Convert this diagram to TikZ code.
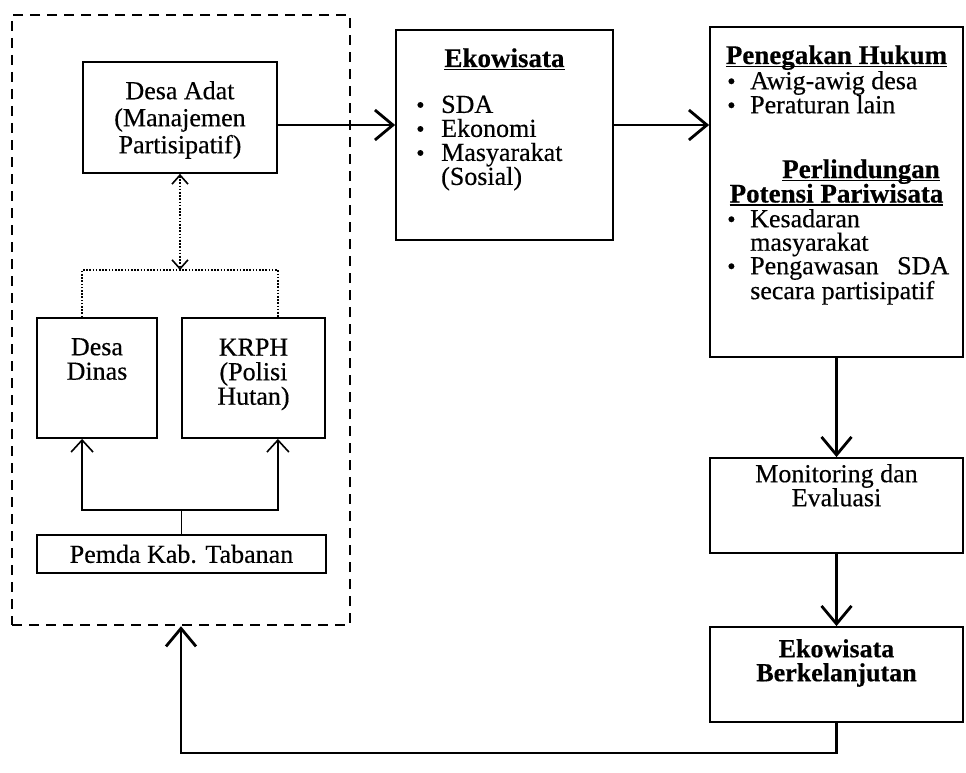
\documentclass[tikz,border=0pt]{standalone}
\usepackage{fontspec}
\setmainfont{Liberation Serif}[FakeBold=0.4]
\usetikzlibrary{arrows.meta}
\newcommand\bul{{\fontsize{24}{24}\selectfont\textbullet}}
\newcommand\bi[1]{\makebox[#1][l]{\bul}}
\newsavebox\ttlbox
\newcommand\ttl[1]{\sbox\ttlbox{#1}\rlap{\rule[-3.5pt]{\wd\ttlbox}{1.8pt}}\usebox\ttlbox}
\begin{document}
\begin{tikzpicture}[x=1pt,y=-1pt,
  txt/.style={font=\fontsize{26}{24}\selectfont, inner sep=0pt},
  box/.style={draw, line width=1.8pt, inner sep=0pt, txt, align=center},
  frame/.style={draw, line width=2.4pt, dash pattern=on 10pt off 7pt, inner sep=0pt},
  bigarr/.style={line width=2.8pt, -{Straight Barb[length=18pt,width=30pt]}},
  smallarr/.style={line width=1.6pt, -{Straight Barb[length=12pt,width=22pt]}},
  dotline/.style={line width=1.6pt, dash pattern=on 1.6pt off 1.6pt},
  dotarr/.style={dotline, {Straight Barb[length=9pt,width=16pt]}-{Straight Barb[length=9pt,width=16pt]}},
  title/.style={font=\fontsize{27}{27}\selectfont\bfseries, inner sep=0pt}
]
\useasboundingbox (0,0) rectangle (966,773);

% frame
\node[frame, minimum width=338pt, minimum height=610pt] (frame) at (181,320) {};

% left group
\node[box, minimum width=194pt, minimum height=111pt] (adat) at (180,117.5) {};
\node[txt, align=center, anchor=north, font=\fontsize{26}{27}\selectfont] (tadat) at (180,81) {Desa Adat\\(Manajemen\\Partisipatif)};
\node[box, minimum width=120pt, minimum height=120pt] (dinas) at (97,378) {};
\node[box, minimum width=143pt, minimum height=120pt] (krph) at (253.5,378) {};
\node[txt, align=center, anchor=north, font=\fontsize{26}{24.5}\selectfont] (tdinas) at (97,338) {Desa\\Dinas};
\node[txt, align=center, anchor=north, font=\fontsize{26}{24.5}\selectfont] (tkrph) at (253.5,338.5) {KRPH\\(Polisi\\Hutan)};
\node[box, minimum width=289pt, minimum height=38pt] (pemda) at (181.5,554) {Pemda Kab. Tabanan};

% Ekowisata
\node[box, minimum width=217pt, minimum height=210pt] (ekow) at (504.5,135) {};
\node[title, anchor=base] (tekow) at (504.5,67) {\ttl{Ekowisata}};
\node[txt, align=left, anchor=north west] (lekow) at (416,95.5)
  {\bi{25pt}SDA\\ \bi{25pt}Ekonomi\\ \bi{25pt}Masyarakat\\ \hspace*{25pt}(Sosial)};

% Penegakan / Perlindungan
\node[box, minimum width=253pt, minimum height=330pt] (pen) at (836.5,192) {};
\node[title, anchor=base] (tpen) at (836.5,64) {\ttl{Penegakan Hukum}};
\node[txt, align=left, anchor=north west] (lpen) at (727,71)
  {\bi{23pt}Awig-awig desa\\ \bi{23pt}Peraturan lain};
\node[title, anchor=base] (tperl) at (861,178) {\ttl{Perlindungan}};
\node[title, anchor=base] (tpot) at (836.5,202.5) {\ttl{Potensi Pariwisata}};
\node[txt, align=left, anchor=north west, font=\fontsize{26}{23.5}\selectfont] (lperl) at (727,209)
  {\bi{23pt}Kesadaran\\ \hspace*{23pt}masyarakat\\ \bi{23pt}\makebox[199pt][s]{Pengawasan SDA}\\ \hspace*{23pt}secara partisipatif};

% Monitoring
\node[box, minimum width=253pt, minimum height=95pt] (mon) at (836.5,505.5) {};
\node[txt, align=center, anchor=north] (tmon) at (836.5,464) {Monitoring dan\\Evaluasi};

% Ekowisata Berkelanjutan
\node[box, minimum width=253pt, minimum height=95pt] (berk) at (836.5,674.5) {};
\node[txt, align=center, anchor=north, font=\fontsize{26}{24}\selectfont\bfseries] (tberk) at (836.5,639) {Ekowisata\\Berkelanjutan};

% connectors
\draw[bigarr] ([yshift=-7.5pt]adat.east) coordinate (a1) -- (a1 -| ekow.west);
\draw[bigarr] (ekow.east |- a1) -- (pen.west |- a1);
\draw[bigarr] (pen.south) -- (mon.north);
\draw[bigarr] (mon.south) -- (berk.north);
\draw[bigarr] (berk.south) -- ++(0,30) -| (frame.south);

\coordinate (dj) at (180,270);
\draw[dotarr] (adat.south) -- (dj);
\draw[dotline] (adat.west |- dinas.north) |- (dj) -| (adat.east |- krph.north);

\draw[smallarr] (pemda.north) -- ++(0,-24) -| (adat.west |- dinas.south);
\draw[smallarr] (pemda.north) -- ++(0,-24) -| (adat.east |- krph.south);
\end{tikzpicture}
\end{document}
